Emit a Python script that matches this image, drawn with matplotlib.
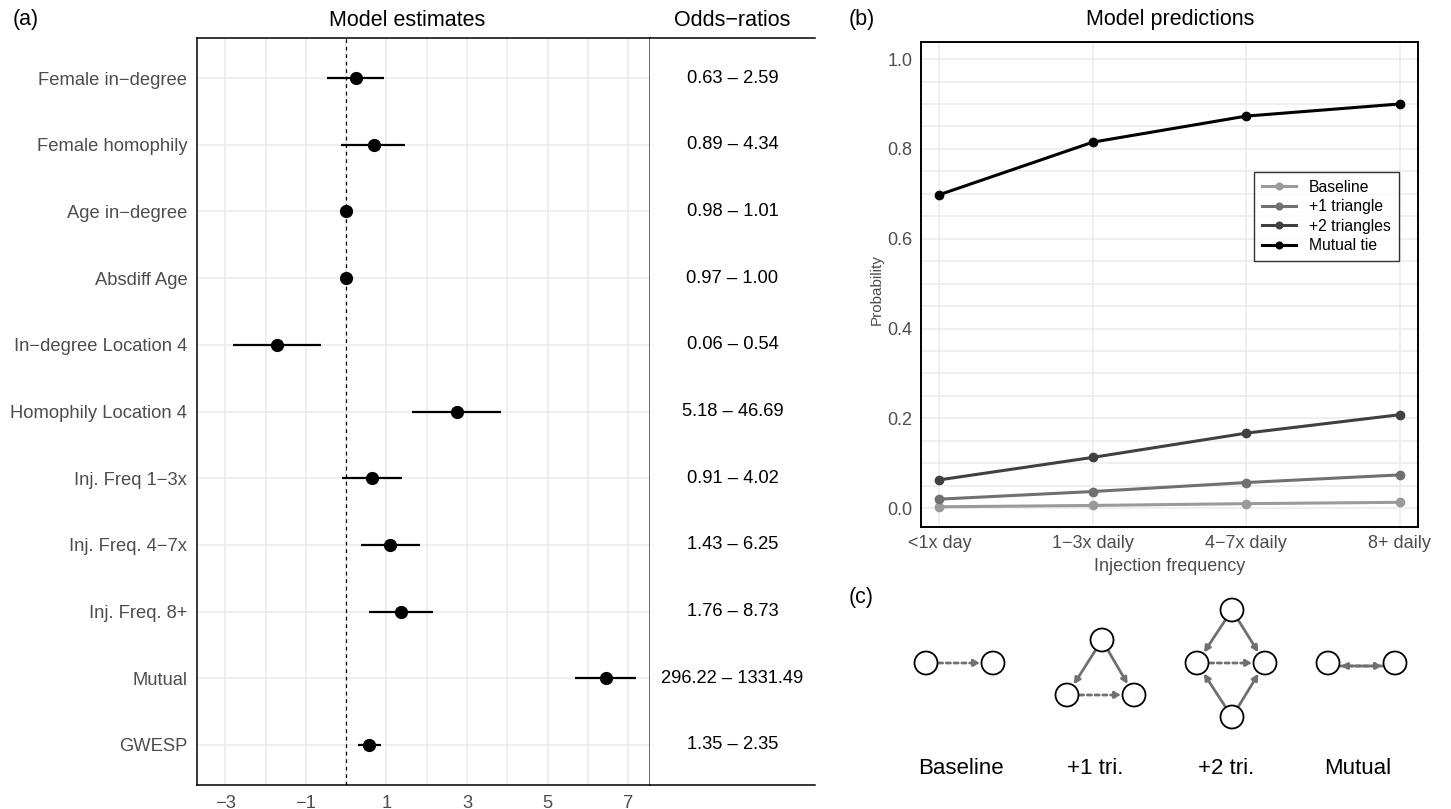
import numpy as np
import matplotlib.pyplot as plt

plt.rcParams['font.family'] = ['Liberation Sans', 'DejaVu Sans']

# panel (a): ERGM terms, log-odds estimates and odds-ratio intervals
terms = ['Female in\u2212degree', 'Female homophily', 'Age in\u2212degree', 'Absdiff Age',
         'In\u2212degree Location 4', 'Homophily Location 4', 'Inj. Freq 1\u22123x',
         'Inj. Freq. 4\u22127x', 'Inj. Freq. 8+', 'Mutual', 'GWESP']
estimate = [0.24, 0.68, -0.005, -0.015, -1.71, 2.74, 0.65, 1.10, 1.37, 6.44, 0.58]
or_low = [0.63, 0.89, 0.98, 0.97, 0.06, 5.18, 0.91, 1.43, 1.76, 296.22, 1.35]
or_high = [2.59, 4.34, 1.01, 1.00, 0.54, 46.69, 4.02, 6.25, 8.73, 1331.49, 2.35]

# panel (b): predicted tie probabilities
freq_labels = ['<1x day', '1\u22123x daily', '4\u22127x daily', '8+ daily']
p_baseline = [0.003, 0.006, 0.010, 0.013]
p_tri1 = [0.020, 0.037, 0.057, 0.074]
p_tri2 = [0.063, 0.113, 0.167, 0.208]
p_mutual = [0.698, 0.815, 0.873, 0.900]

W, H = 1451, 809
fig = plt.figure(figsize=(W / 100, H / 100), dpi=100)


def px_axes(x0, y0, x1, y1):
    return fig.add_axes([x0 / W, 1 - y1 / H, (x1 - x0) / W, (y1 - y0) / H])


grey_txt = '#4d4d4d'
grid_c = '#ebebeb'

# ---- (a) forest plot
ax = px_axes(197, 38, 650, 785)
n = len(terms)
ypos = np.arange(n, 0, -1)
lo = np.log(or_low)
hi = np.log(or_high)
ax.set_xlim(-3.7, 7.54)
ax.set_ylim(0.4, n + 0.6)
ax.set_xticks([-3, -1, 1, 3, 5, 7])
ax.set_xticks([-2, 0, 2, 4, 6], minor=True)
ax.set_xticklabels(['\u22123', '\u22121', '1', '3', '5', '7'])
ax.set_yticks(ypos)
ax.set_yticklabels(terms)
ax.grid(True, which='both', color=grid_c, lw=1.1)
ax.set_axisbelow(True)
ax.tick_params(which='both', length=0, labelsize=13.2, labelcolor=grey_txt, pad=7)
ax.axvline(0, color='black', lw=0.9, ls=(0, (3, 3)))
ax.hlines(ypos, lo, hi, color='black', lw=1.6)
ax.plot(estimate, ypos, 'o', color='black', ms=8.5)
for s in ax.spines.values():
    s.set_color('black')
    s.set_linewidth(1.1)
ax.spines['right'].set_color('#444444')

ax_or = px_axes(650, 38, 815, 785)
ax_or.set_xlim(0, 1)
ax_or.set_ylim(0.4, n + 0.6)
ax_or.set_xticks([])
ax_or.set_yticks([])
for side in ['left', 'right']:
    ax_or.spines[side].set_visible(False)
for side in ['top', 'bottom']:
    ax_or.spines[side].set_linewidth(1.1)
for y, a, b in zip(ypos, or_low, or_high):
    ax_or.text(0.5, y, f'{a:.2f} \u2013 {b:.2f}', ha='center', va='center', fontsize=13.2)

fig.text(13 / W, 1 - 20 / H, '(a)', fontsize=15.5, va='center', ha='left')
fig.text(407 / W, 1 - 20 / H, 'Model estimates', fontsize=15.5, va='center', ha='center')
fig.text(732 / W, 1 - 20 / H, 'Odds\u2212ratios', fontsize=15.5, va='center', ha='center')

# ---- (b) predictions
axb = px_axes(921, 42, 1418, 527)
xs = np.arange(len(freq_labels))
series = [('Baseline', p_baseline, '#9a9a9a'), ('+1 triangle', p_tri1, '#707070'),
          ('+2 triangles', p_tri2, '#404040'), ('Mutual tie', p_mutual, '#000000')]
for name, vals, col in series:
    axb.plot(xs, vals, '-o', color=col, lw=2.2, ms=6, label=name)
axb.set_xlim(-0.12, 3.12)
axb.set_ylim(-0.042, 1.038)
axb.set_xticks(xs)
axb.set_xticklabels(freq_labels)
axb.set_yticks([0, 0.2, 0.4, 0.6, 0.8, 1.0])
axb.set_yticklabels(['0.0', '0.2', '0.4', '0.6', '0.8', '1.0'])
axb.set_yticks(np.arange(0.05, 1.0, 0.05), minor=True)
axb.grid(True, which='both', color=grid_c, lw=1.1)
axb.set_axisbelow(True)
axb.tick_params(which='both', length=0, labelsize=13, labelcolor=grey_txt, pad=6)
axb.set_xlabel('Injection frequency', fontsize=13, color=grey_txt, labelpad=4)
axb.set_ylabel('Probability', fontsize=11, color=grey_txt)
axb.yaxis.set_label_coords(-0.075, 0.49)
for s in axb.spines.values():
    s.set_color('black')
    s.set_linewidth(1.4)
leg = axb.legend(loc='upper left', bbox_to_anchor=(0.67, 0.732), fontsize=11.3,
                 frameon=True, fancybox=False, edgecolor='black', handlelength=2.2,
                 labelspacing=0.28, borderpad=0.5, handletextpad=0.8, markerscale=0.8,
                 borderaxespad=0)
leg.get_frame().set_linewidth(1.0)

fig.text(849 / W, 1 - 20 / H, '(b)', fontsize=15.5, va='center', ha='left')
fig.text(1170 / W, 1 - 20 / H, 'Model predictions', fontsize=15.5, va='center', ha='center')

# ---- (c) motif sketches, drawn in pixel units
axc = px_axes(840, 580, 1451, 809)
axc.set_xlim(840, 1451)
axc.set_ylim(809, 580)
axc.axis('off')

r = 11.5
motifs = {
    'Baseline': {'nodes': {'a': (926, 663), 'b': (993, 663)},
                 'solid': [], 'dotted': [('a', 'b', 0)], 'lx': 961},
    '+1 tri.': {'nodes': {'t': (1102, 640), 'l': (1067, 695), 'r': (1134, 695)},
                'solid': [('t', 'l', 0), ('t', 'r', 0)], 'dotted': [('l', 'r', 0)], 'lx': 1095},
    '+2 tri.': {'nodes': {'t': (1232, 610), 'l': (1197, 663), 'r': (1265, 663), 'b': (1232, 717)},
                'solid': [('t', 'l', 0), ('t', 'r', 0), ('b', 'l', 0), ('b', 'r', 0)],
                'dotted': [('l', 'r', 0)], 'lx': 1226},
    'Mutual': {'nodes': {'a': (1328, 663), 'b': (1395, 663)},
               'solid': [('b', 'a', -3)], 'dotted': [('a', 'b', 3)], 'lx': 1358},
}


def edge(p, q, off, style):
    p = np.array(p, float)
    q = np.array(q, float)
    d = (q - p) / np.linalg.norm(q - p)
    nrm = np.array([-d[1], d[0]])
    start = p + d * (r + 1) + nrm * off
    end = q - d * (r + 1) + nrm * off
    ls = '-' if style == 'solid' else (0, (1.5, 1.3))
    axc.annotate('', xy=end, xytext=start,
                 arrowprops=dict(arrowstyle='-|>', color='#707070', lw=2, linestyle=ls,
                                 mutation_scale=9, shrinkA=0, shrinkB=0))


for label, m in motifs.items():
    nodes = m['nodes']
    for a, b, off in m['solid']:
        edge(nodes[a], nodes[b], off, 'solid')
    for a, b, off in m['dotted']:
        edge(nodes[a], nodes[b], off, 'dotted')
    for (x, y) in nodes.values():
        axc.add_patch(plt.Circle((x, y), r, facecolor='white', edgecolor='black', lw=1.3, zorder=3))
    axc.text(m['lx'], 768, label, ha='center', va='center', fontsize=16)

fig.text(849 / W, 1 - 597 / H, '(c)', fontsize=15.5, va='center', ha='left')

fig.savefig('out.png', dpi=100)
